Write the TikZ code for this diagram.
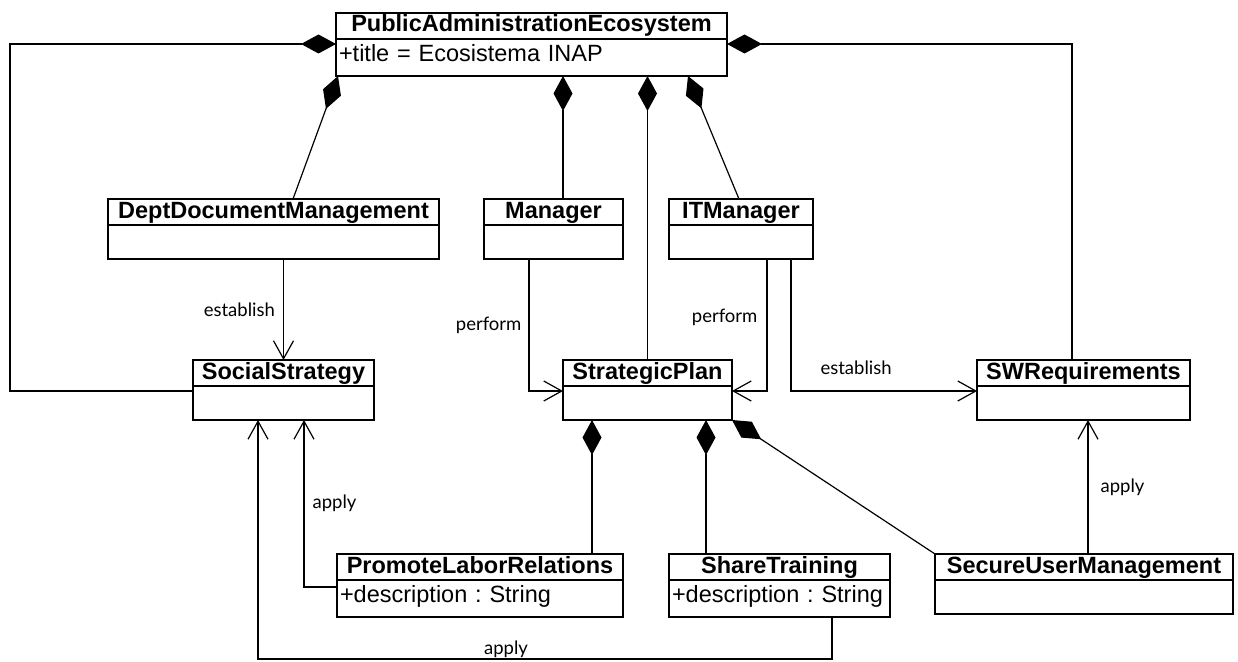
\documentclass[tikz,border=0pt]{standalone}
\usepackage{fontspec}
\setmainfont{Liberation Sans}
\newfontfamily\labelfont{Lato}
\usetikzlibrary{arrows.meta, calc}

\begin{document}
\frenchspacing
\begin{tikzpicture}[x=1pt, y=-1pt,
    clsname/.style={draw, line width=2pt, outer sep=0pt, anchor=north west, minimum height=26pt, inner sep=1pt, text height=18pt, text depth=6pt, font=\bfseries\fontsize{23.5}{26}\selectfont},
    clsbody/.style={draw, line width=2pt, outer sep=0pt, anchor=north, inner sep=3pt, align=left, font=\fontsize{23.5}{26}\selectfont},
    attr/.style={text height=19.5pt, text depth=11.5pt},
    comp/.style={-{Diamond[length=35pt, width=19pt]}, line width=1.2pt},
    assoc/.style={-{Straight Barb[length=18pt, width=20pt]}, line width=1.2pt},
    lbl/.style={font=\labelfont\fontsize{18.5}{20}\selectfont, inner sep=4pt}]

  \useasboundingbox (0,0) rectangle (1238,661);

  % Ecosystem
  \node[clsname, minimum width=391pt] (eco) at (336,13) {PublicAdministrationEcosystem};
  \node[clsbody, attr, minimum width=391pt, minimum height=37pt, text width=385pt] (eco-b) at (eco.south) {+title = Ecosistema INAP};

  % Second row
  \node[clsname, minimum width=331pt] (dept) at (108,199) {DeptDocumentManagement};
  \node[clsbody, minimum width=331pt, minimum height=34pt] (dept-b) at (dept.south) {};
  \node[clsname, minimum width=139pt] (mgr) at (484,199) {Manager};
  \node[clsbody, minimum width=139pt, minimum height=34pt] (mgr-b) at (mgr.south) {};
  \node[clsname, minimum width=144pt] (itm) at (669,199) {ITManager};
  \node[clsbody, minimum width=144pt, minimum height=34pt] (itm-b) at (itm.south) {};

  % Third row
  \node[clsname, minimum width=181pt] (social) at (193,360) {SocialStrategy};
  \node[clsbody, minimum width=181pt, minimum height=34pt] (social-b) at (social.south) {};
  \node[clsname, minimum width=169pt] (plan) at (563,360) {StrategicPlan};
  \node[clsbody, minimum width=169pt, minimum height=34pt] (plan-b) at (plan.south) {};
  \node[clsname, minimum width=213pt] (swreq) at (977,360) {SWRequirements};
  \node[clsbody, minimum width=213pt, minimum height=34pt] (swreq-b) at (swreq.south) {};

  % Bottom row
  \node[clsname, minimum width=286pt] (labor) at (337,554) {PromoteLaborRelations};
  \node[clsbody, attr, minimum width=286pt, minimum height=37pt, text width=280pt] (labor-b) at (labor.south) {+description : String};
  \node[clsname, minimum width=221pt] (train) at (669,554) {ShareTraining};
  \node[clsbody, attr, minimum width=221pt, minimum height=37pt, text width=215pt] (train-b) at (train.south) {+description : String};
  \node[clsname, minimum width=298pt] (secure) at (935,554) {SecureUserManagement};
  \node[clsbody, minimum width=298pt, minimum height=34pt] (secure-b) at (secure.south) {};

  % Compositions into the ecosystem
  \draw[comp] ($(social-b.north west)+(0,5)$) -- ++(-183,0) |- ($(eco-b.north west)+(0,5)$);
  \draw[comp] ($(swreq.north)+(-11.5,0)$) |- ($(eco-b.north east)+(0,5)$);
  \draw[comp] ($(dept.north)+(19.5,0)$) -- ($(eco-b.south west)+(2,0)$);
  \coordinate (mgrtop) at ($(mgr.north)+(9.5,0)$);
  \draw[comp] (mgrtop) -- (mgrtop |- eco-b.south);
  \draw[comp] (plan.north) -- (plan.north |- eco-b.south);
  \draw[comp] ($(itm.north)+(-2,0)$) -- ($(eco-b.south east)+(-39,0)$);

  % Compositions into the plan
  \coordinate (planL) at ($(plan-b.south west)+(29,0)$);
  \coordinate (planR) at ($(plan-b.south)+(58.5,0)$);
  \draw[comp] (planL |- labor.north) -- (planL);
  \draw[comp] (planR |- train.north) -- (planR);
  \draw[comp] (secure.north west) -- (plan-b.south east);

  % Associations
  \draw[assoc] (social.north |- dept-b.south) -- (social.north) node[lbl, midway, left=4pt] {establish};
  \draw[assoc] ($(mgr-b.south)+(-24.5,0)$) |- ($(plan-b.north west)+(0,5)$) node[lbl, pos=0.25, left=3pt] {perform};
  \draw[assoc] ($(itm-b.south)+(26,0)$) |- ($(plan-b.north east)+(0,5)$) node[lbl, pos=0.22, left=5pt] {perform};
  \draw[assoc] ($(itm-b.south)+(50,0)$) |- ($(swreq-b.north west)+(0,5)$) node[lbl, pos=0.675, above=12pt] {establish};
  \coordinate (swq) at ($(swreq-b.south)+(4.5,0)$);
  \draw[assoc] (swq |- secure.north) -- (swq) node[lbl, midway, right=8pt] {apply};
  \draw[assoc] ($(labor-b.north west)+(0,7)$) -| ($(social-b.south)+(20.5,0)$) node[lbl, pos=0.75, right=4pt] {apply};
  \draw[assoc] ($(train-b.south)+(52.5,0)$) -- ++(0,42) -| ($(social-b.south)+(-25.5,0)$) node[lbl, pos=0.284, above, inner sep=1pt] {apply};
\end{tikzpicture}
\end{document}
